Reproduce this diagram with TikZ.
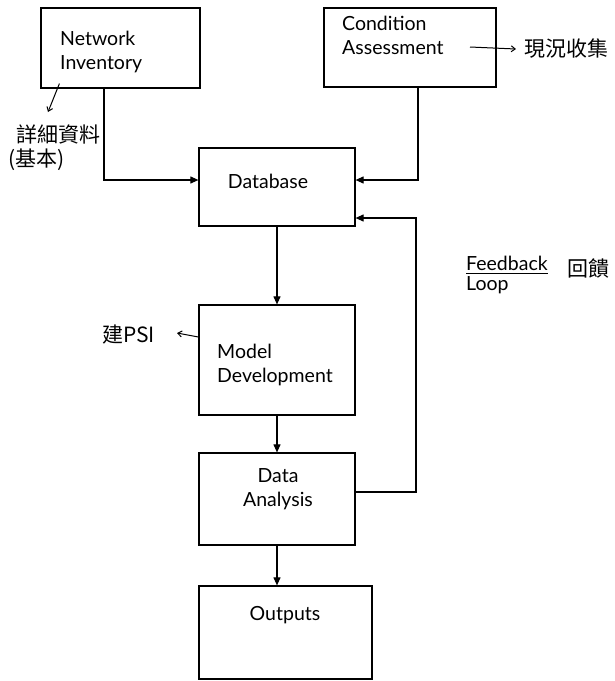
\documentclass[tikz,border=0pt]{standalone}
\usepackage{fontspec}
\setmainfont{Lato}
\newfontfamily\cjk{Noto Sans CJK TC}
\usetikzlibrary{arrows.meta}
\tikzset{
  box/.style={draw, line width=1.2pt, inner sep=0pt},
  lbl/.style={inner sep=0pt, font=\fontsize{19.5}{24}\selectfont},
  hand/.style={inner sep=0pt, font=\cjk\fontsize{21}{26}\selectfont},
  arr/.style={line width=1.1pt, -{Triangle[length=8pt,width=7pt]}},
  note/.style={line width=1pt, -{Straight Barb[length=4pt,width=6pt]}}
}
\begin{document}
\begin{tikzpicture}[x=1pt,y=-1pt]
\useasboundingbox (0,0) rectangle (614,681);
% boxes
\node[box, minimum width=159pt, minimum height=80pt] (ni) at (120.5,48) {};
\node[box, minimum width=172pt, minimum height=79pt] (ca) at (410,47.5) {};
\node[box, minimum width=156pt, minimum height=78pt] (db) at (277,187) {};
\node[box, minimum width=156pt, minimum height=110pt] (md) at (277,360) {};
\node[box, minimum width=156pt, minimum height=92pt] (da) at (277,499) {};
\node[box, minimum width=173pt, minimum height=93pt] (out) at (285.5,632.5) {};
% box texts
\node[lbl, anchor=west, align=left] (tni) at (60,52) {Network\\Inventory};
\node[lbl, anchor=west, align=left] (tca) at (342,35) {Condition\\Assessment};
\node[lbl] (tdb) at (268,181) {Database};
\node[lbl, anchor=west, align=left] (tmd) at (217,365) {Model\\Development};
\node[lbl, align=center] (tda) at (278,489) {Data\\Analysis};
\node[lbl] (tout) at (285,615) {Outputs};
% main connectors
\draw[arr] ([xshift=-16.5pt]ni.south) |- ([yshift=7pt]db.west);
\draw[arr] ([xshift=8pt]ca.south) |- ([yshift=7pt]db.east);
\draw[arr] (db.south) -- (md.north);
\draw[arr] (md.south) -- (da.north);
\draw[arr] (da.south) -- (da.south |- out.north);
\coordinate (fb) at (416,350);
\draw[arr] ([yshift=7pt]da.east) -| (fb) |- ([yshift=-31pt]db.east);
% annotations
\node[hand, anchor=west] (n1) at (16,134) {詳細資料};
\node[hand, anchor=west] (n2) at (8,160) {(基本)};
\coordinate (n1tip) at (48,112);
\draw[note] ([xshift=19pt,yshift=5pt]ni.south west) -- (n1tip);
\node[hand, anchor=west] (n3) at (524,49) {現況收集};
\coordinate (n3s) at (470,47);
\draw[note] (n3s) -- ([xshift=-8pt]n3.west);
\node[hand, anchor=east] (n4) at (155,335) {建PSI};
\coordinate (n4tip) at (177,333);
\draw[note] ([yshift=23pt]md.west) -- (n4tip);
\node[lbl, anchor=west] (fbt) at (466,263) {Feedback};
\node[lbl, anchor=west] (lp) at (466,285) {Loop};
\draw[line width=1pt] ([yshift=-3pt]fbt.south west) coordinate (u1) -- ([yshift=-3pt]fbt.south east) coordinate (u2);
\node[hand, anchor=west] (n5) at (567,268) {回饋};
\end{tikzpicture}
\end{document}
